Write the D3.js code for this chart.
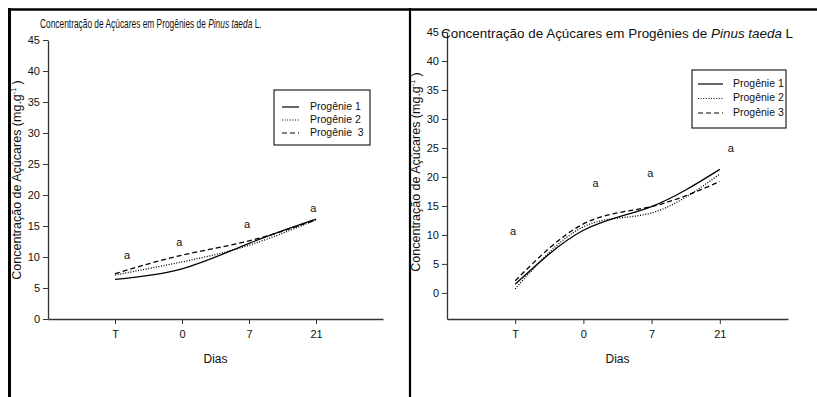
<!DOCTYPE html>
<html>
<head>
<meta charset="utf-8">
<script src="https://cdn.jsdelivr.net/npm/d3@7"></script>
<style>
  html, body { margin: 0; padding: 0; background: #fff; }
  svg { display: block; }
  text { font-family: "Liberation Sans", Arial, sans-serif; fill: #111; }
</style>
</head>
<body>
<svg id="fig" width="817" height="397"></svg>
<script>
// Sampling days (categorical positions on the x axis)
const dias = ["T", "0", "7", "21"];
const series = ["Progênie 1", "Progênie 2", "Progênie 3"];

// Panel A – sugar concentration (mg.g-1)
const leftP1 = [6.4, 8.1, 12.2, 16.1];
const leftP2 = [7.1, 9.2, 11.9, 16.0];
const leftP3 = [7.3, 10.3, 12.6, 16.0];
// significance letters: category offset and height
const leftLetterPos = [1.18, 1.96, 2.97, 3.96];
const leftLetterVal = [10.2, 12.3, 15.2, 17.7];

// Panel B – sugar concentration (mg.g-1)
const rightP1 = [1.5, 10.8, 14.9, 21.3];
const rightP2 = [0.7, 11.4, 13.8, 20.5];
const rightP3 = [2.1, 11.9, 14.9, 19.2];
const rightLetterPos = [0.97, 2.18, 2.98, 4.16];
const rightLetterVal = [10.5, 18.8, 20.5, 24.8];

const yTicks = [0, 5, 10, 15, 20, 25, 30, 35, 40, 45];
const letters = ["a", "a", "a", "a"];

const dashes = [null, "1,1.6", "5,3"];

const svg = d3.select("#fig");

// outer frame and panel separator
svg.append("line").attr("x1", 9).attr("x2", 817).attr("y1", 9.5).attr("y2", 9.5)
  .attr("stroke", "#000").attr("stroke-width", 2.5);
svg.append("line").attr("x1", 9.5).attr("x2", 9.5).attr("y1", 8).attr("y2", 397)
  .attr("stroke", "#000").attr("stroke-width", 3);
svg.append("line").attr("x1", 410).attr("x2", 410).attr("y1", 8).attr("y2", 397)
  .attr("stroke", "#000").attr("stroke-width", 2.2);

function panel(cfg) {
  const g = svg.append("g");
  const x = d3.scaleLinear().domain([0, 5]).range(cfg.xRange);
  const y = d3.scaleLinear().domain(cfg.yDomain).range(cfg.yRange);

  // y axis
  const yAxis = d3.axisLeft(y).tickValues(yTicks).tickSize(5).tickSizeOuter(0).tickPadding(3);
  const ya = g.append("g").attr("transform", `translate(${cfg.xRange[0]},0)`).call(yAxis);
  // x axis
  const xAxis = d3.axisBottom(x).tickValues([1, 2, 3, 4]).tickFormat((d, i) => dias[i])
    .tickSize(5).tickSizeOuter(0).tickPadding(6);
  const xa = g.append("g").attr("transform", `translate(0,${cfg.yRange[0]})`).call(xAxis);
  [ya, xa].forEach(a => {
    a.select(".domain").attr("stroke", "#333").attr("stroke-width", 1.3);
    a.selectAll(".tick line").attr("stroke", "#333");
    a.selectAll(".tick text").attr("font-size", 11)
      .attr("font-family", '"Liberation Sans", Arial, sans-serif').attr("fill", "#222");
  });

  // axis titles
  g.append("text").attr("x", (x(0) + x(5)) / 2).attr("y", 363)
    .attr("text-anchor", "middle").attr("font-size", 12).text("Dias");
  const yl = g.append("text")
    .attr("transform", `translate(${cfg.yLabelX},${cfg.yLabelY}) rotate(-90)`)
    .attr("text-anchor", "middle").attr("font-size", 12.5);
  yl.append("tspan").text("Concentração de Açúcares (mg.g");
  yl.append("tspan").attr("font-size", 7).attr("dy", -5).text("-1");
  yl.append("tspan").attr("dy", 5).text(" )");

  // chart title, fitted to a set width by a horizontal scale
  const tg = g.append("g");
  const t = tg.append("text").attr("x", 0).attr("y", 0).attr("font-size", cfg.titleSize);
  t.append("tspan").text("Concentração de Açúcares em Progênies de ");
  t.append("tspan").attr("font-style", "italic").text("Pinus taeda");
  t.append("tspan").text(cfg.titleEnd);
  const w = t.node().getBBox().width;
  const sx = cfg.titleLen ? cfg.titleLen / w : 1;
  tg.attr("transform", `translate(${cfg.titleX},${cfg.titleY}) scale(${sx},1)`);

  // curves
  const line = d3.line().x((d, i) => x(i + 1)).y(d => y(d)).curve(d3.curveNatural);
  cfg.data.forEach((vals, k) => {
    g.append("path").datum(vals).attr("d", line)
      .attr("fill", "none").attr("stroke", "#000").attr("stroke-width", 1.3)
      .attr("stroke-dasharray", dashes[k]);
  });

  // significance letters
  letters.forEach((s, i) => {
    g.append("text").attr("x", x(cfg.letterPos[i])).attr("y", y(cfg.letterVal[i]))
      .attr("text-anchor", "middle").attr("dominant-baseline", "middle")
      .attr("font-size", 11).text(s);
  });

  // legend
  const L = cfg.legend;
  const lg = g.append("g").attr("transform", `translate(${L.x},${L.y})`);
  lg.append("rect").attr("width", L.w).attr("height", L.h)
    .attr("fill", "#fff").attr("stroke", "#222").attr("stroke-width", 1.2);
  series.forEach((name, k) => {
    const yy = L.row0 + k * L.step;
    lg.append("line").attr("x1", L.lineX).attr("x2", L.lineX + L.lineW)
      .attr("y1", yy).attr("y2", yy).attr("stroke", "#000").attr("stroke-width", 1.2)
      .attr("stroke-dasharray", dashes[k]);
    lg.append("text").attr("x", L.textX).attr("y", yy).attr("dominant-baseline", "middle")
      .attr("font-size", 10.5).text(k === 2 && L.wideGap ? "Progênie\u00a0 3" : name);
  });
}

panel({
  xRange: [48, 383], yDomain: [0, 45], yRange: [319, 40],
  data: [leftP1, leftP2, leftP3],
  letterPos: leftLetterPos, letterVal: leftLetterVal,
  titleX: 40, titleY: 28, titleSize: 12, titleLen: 222, titleEnd: " L.",
  yLabelX: 21, yLabelY: 180,
  legend: { x: 274, y: 90, w: 96, h: 55, row0: 17, step: 13, lineX: 8, lineW: 17, textX: 36, wideGap: true }
});

panel({
  xRange: [447, 788], yDomain: [-4.5, 45], yRange: [319, 32],
  data: [rightP1, rightP2, rightP3],
  letterPos: rightLetterPos, letterVal: rightLetterVal,
  titleX: 441, titleY: 38, titleSize: 13.4, titleLen: 352, titleEnd: " L",
  yLabelX: 420, yLabelY: 172,
  legend: { x: 692, y: 70, w: 94, h: 58, row0: 14, step: 14.5, lineX: 6, lineW: 25, textX: 41, wideGap: false }
});
</script>
</body>
</html>
